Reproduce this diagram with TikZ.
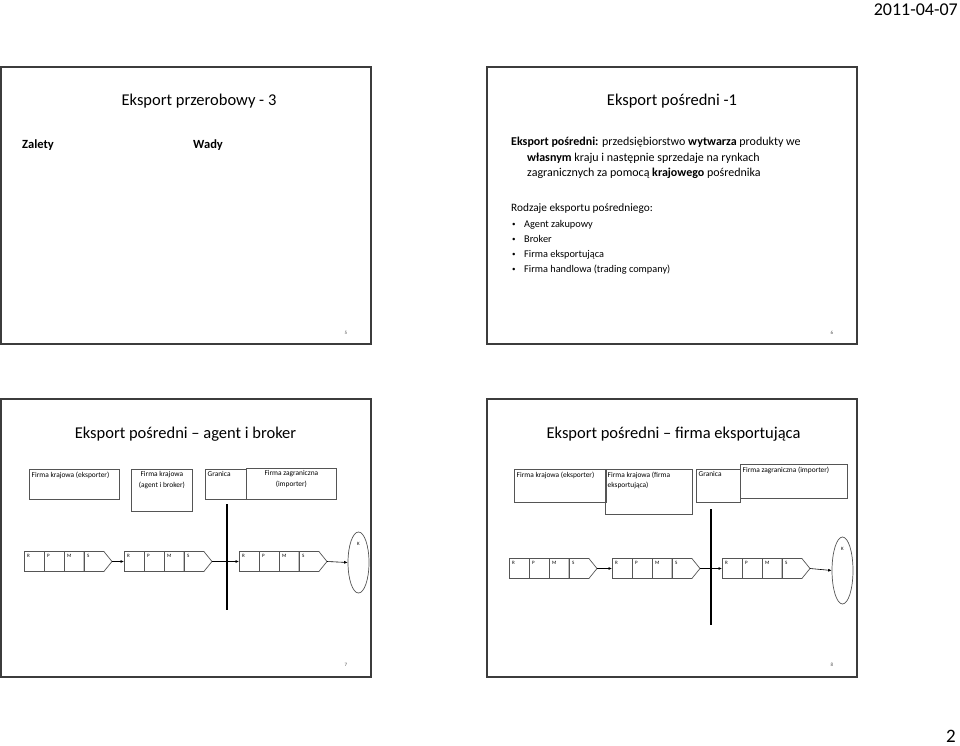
\documentclass[tikz,border=0pt]{standalone}
\usepackage{fontspec}
\setmainfont{Carlito}
\usetikzlibrary{shapes.geometric,shapes.symbols,arrows.meta,positioning}
\definecolor{framegray}{RGB}{60,60,60}
\definecolor{boxgray}{RGB}{85,85,85}

\begin{document}
\begin{tikzpicture}[x=1pt, y=-1pt,
  slide/.style={draw=framegray, line width=1.6pt},
  title/.style={font=\fontsize{16.5}{20}\selectfont, anchor=base, inner sep=0pt},
  body/.style={font=\fontsize{12}{15}\selectfont, anchor=base west, inner sep=0pt},
  item/.style={font=\fontsize{10.3}{15}\selectfont, anchor=base west, inner sep=0pt},
  pnum/.style={font=\fontsize{5}{6}\selectfont, text=black!70, inner sep=0pt},
  hbox/.style={draw=boxgray, line width=0.7pt, inner sep=0pt, anchor=north west},
  htl/.style={font=\fontsize{7.4}{10.5}\selectfont, anchor=north west, inner sep=2.5pt, align=left},
  htc/.style={font=\fontsize{7.4}{10.5}\selectfont, anchor=north, inner sep=2.5pt, align=center},
  cell/.style={draw=boxgray, line width=0.7pt, minimum width=20pt, minimum height=20pt, inner sep=0pt, outer sep=0pt},
  scell/.style={cell, shape=signal, signal to=east, signal pointer angle=102, minimum width=28pt},
  clbl/.style={font=\fontsize{5}{6}\selectfont, anchor=north west, inner sep=3pt},
  kell/.style={draw=boxgray, line width=0.7pt, ellipse, inner sep=0pt},
  arr/.style={-{Latex[length=3.5pt,width=3pt]}, line width=0.6pt},
  border/.style={line width=1.2pt}]
\useasboundingbox (0,0) rectangle (960,746);

% page header / footer
\node[font=\fontsize{18}{20}\selectfont, anchor=base east, inner sep=0pt] (date) at (958,16) {2011-04-07};
\node[font=\fontsize{19}{22}\selectfont, anchor=base east, inner sep=0pt] (page) at (956,742) {2};

% slide frames
\draw[slide] (1,67) rectangle (371,344);
\draw[slide] (487,67) rectangle (857,344);
\draw[slide] (1,399) rectangle (371,677);
\draw[slide] (487,399) rectangle (857,677);

% slide 5
\node[title] (t5) at (199,106) {Eksport przerobowy - 3};
\node[body, font=\fontsize{12.5}{15}\selectfont\bfseries] (zalety) at (22,149) {Zalety};
\node[body, font=\fontsize{12.5}{15}\selectfont\bfseries] (wady) at (193,149) {Wady};
\node[pnum] (n5) at (346,333) {5};

% slide 6
\node[title] (t6) at (672,106) {Eksport pośredni -1};
\node[body] (l1) at (511,146) {\textbf{Eksport pośredni:} przedsiębiorstwo \textbf{wytwarza} produkty we};
\node[body] (l2) at (527,161) {\textbf{własnym} kraju i następnie sprzedaje na rynkach};
\node[body] (l3) at (527,176) {zagranicznych za pomocą \textbf{krajowego} pośrednika};
\node[body, font=\fontsize{11.3}{15}\selectfont] (rodz) at (511,211) {Rodzaje eksportu pośredniego:};
\foreach \t [count=\i] in {Agent zakupowy, Broker, Firma eksportująca, Firma handlowa (trading company)} {
  \node[item, font=\fontsize{7}{9}\selectfont] (dot\i) at (512,226+15*\i-15) {•};
  \node[item] (it\i) at (524,227.5+15*\i-15) {\t};
}
\node[pnum] (n6) at (832,333) {6};

% slide 7
\node[title] (t7) at (185.5,438) {Eksport pośredni – agent i broker};
\node[hbox, minimum width=90pt, minimum height=30pt, label={[htl]north west:Firma krajowa (eksporter)}] (ah1) at (29,469) {};
\node[hbox, minimum width=61pt, minimum height=42pt, label={[htc]north:Firma krajowa\\(agent i broker)}] (ah2) at (131,469) {};
\node[hbox, minimum width=41pt, minimum height=30pt, label={[htl]north west:Granica}] (ah3) at (205,469) {};
\node[hbox, minimum width=90pt, minimum height=31pt, label={[htc]north:Firma zagraniczna\\(importer)}] (ah4) at (246,468) {};
\draw[border] (227,504) -- (227,610);

% slide 8
\node[title] (t8) at (673.5,438) {Eksport pośredni – firma eksportująca};
\node[hbox, minimum width=92pt, minimum height=33pt, label={[htl]north west:Firma krajowa (eksporter)}] (bh1) at (514,469) {};
\node[hbox, minimum width=87pt, minimum height=45pt, label={[htl]north west:Firma krajowa (firma\\eksportująca)}] (bh2) at (605,469) {};
\node[hbox, minimum width=44pt, minimum height=33pt, label={[htl]north west:Granica}] (bh3) at (696,469) {};
\node[hbox, minimum width=107pt, minimum height=34pt, label={[htl]north west:Firma zagraniczna (importer)}] (bh4) at (740,464) {};
\draw[border] (711,509) -- (711,625);

% R-P-M-S chains
\foreach \c/\x/\y in {a1/34/561.5, a2/134/561.5, a3/249/561.5, b1/519/568.5, b2/622/568.5, b3/732/568.5} {
  \node[cell, label={[clbl]north west:R}] (\c-r) at (\x,\y) {};
  \node[cell, right=0pt of \c-r, label={[clbl]north west:P}] (\c-p) {};
  \node[cell, right=0pt of \c-p, label={[clbl]north west:M}] (\c-m) {};
  \node[scell, right=0pt of \c-m, label={[clbl]north west:S}] (\c-s) {};
}
\node[kell, minimum width=21pt, minimum height=61pt, label={[clbl, anchor=north, yshift=-7pt]north:K}] (ak) at (358.5,562.5) {};
\node[kell, minimum width=21pt, minimum height=67pt, label={[clbl, anchor=north, yshift=-7pt]north:K}] (bk) at (842.5,570.5) {};

\draw[arr] (a1-s.east) -- (a2-r.west);
\draw[arr] (a2-s.east) -- (a3-r.west);
\draw[arr] (a3-s.east) -- (ak.west);
\draw[arr] (b1-s.east) -- (b2-r.west);
\draw[arr] (b2-s.east) -- (b3-r.west);
\draw[arr] (b3-s.east) -- (bk.west);
\node[pnum] (n7) at (346,665) {7};
\node[pnum] (n8) at (832,665) {8};
\end{tikzpicture}
\end{document}
